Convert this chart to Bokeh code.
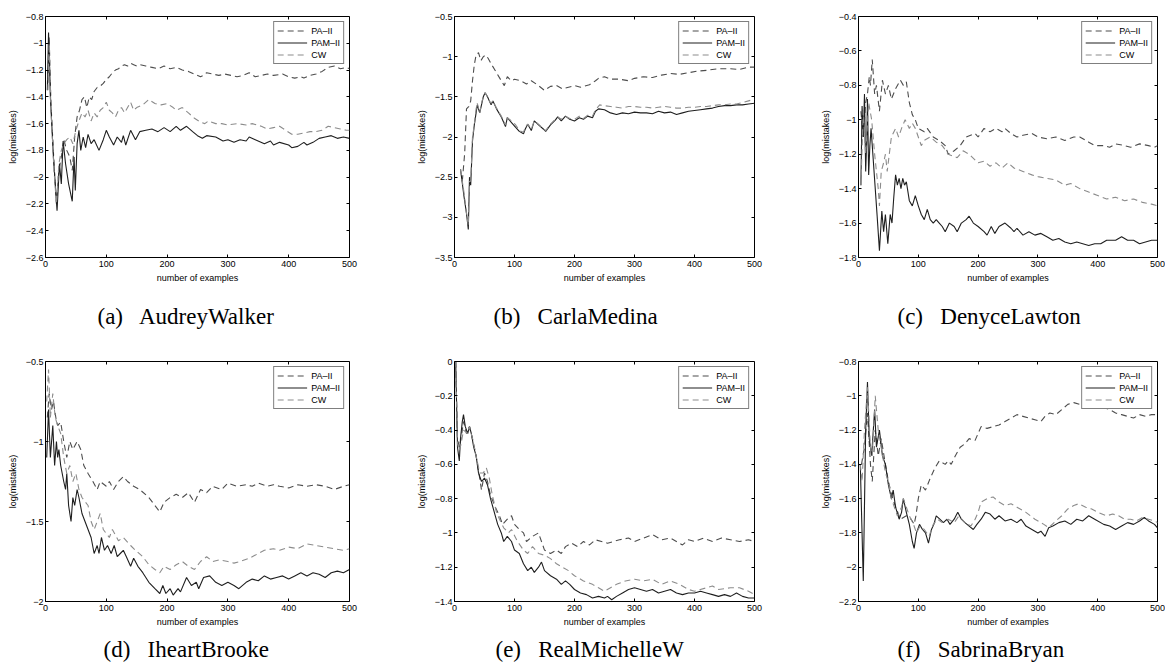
from bokeh.plotting import figure
from bokeh.models import Range1d, FixedTicker, CustomJSTickFormatter, LinearAxis, Title
from bokeh.layouts import column, row
from bokeh.embed import file_html
from bokeh.resources import INLINE

# ---------------- data (x = number of examples, y = log(mistakes)) ----------------
SERIES_NAMES = ["PA\u2013II", "PAM\u2013II", "CW"]
X_TICKS = [0, 100, 200, 300, 400, 500]

# (a) AudreyWalker
AW_YTICKS = [-2.6, -2.4, -2.2, -2.0, -1.8, -1.6, -1.4, -1.2, -1.0, -0.8]
AW_PA = [(4,-1.3),(6,-0.95),(9,-1.45),(14,-1.9),(18,-2.2),(22,-1.95),(26,-1.85),(30,-1.72),(35,-1.8),(40,-1.85),(44,-1.95),(48,-1.7),(52,-1.55),(56,-1.5),(60,-1.42),(64,-1.4),(68,-1.48),(72,-1.4),(76,-1.42),(80,-1.36),(85,-1.33),(90,-1.32),(95,-1.3),(100,-1.27),(105,-1.25),(110,-1.22),(115,-1.2),(120,-1.19),(125,-1.17),(130,-1.16),(135,-1.17),(140,-1.15),(145,-1.16),(150,-1.17),(155,-1.16),(165,-1.17),(175,-1.18),(185,-1.19),(195,-1.17),(205,-1.19),(215,-1.18),(225,-1.2),(235,-1.21),(245,-1.23),(255,-1.25),(260,-1.24),(265,-1.22),(275,-1.23),(285,-1.24),(295,-1.23),(305,-1.24),(315,-1.25),(325,-1.24),(335,-1.22),(345,-1.25),(355,-1.24),(365,-1.23),(375,-1.24),(390,-1.23),(400,-1.25),(410,-1.26),(420,-1.25),(425,-1.26),(435,-1.24),(445,-1.23),(455,-1.21),(465,-1.18),(475,-1.17),(485,-1.19),(495,-1.18),(500,-1.19)]
AW_PAM = [(3,-1.35),(5,-0.92),(8,-1.4),(13,-1.85),(19,-2.25),(23,-1.9),(26,-2.05),(29,-1.73),(33,-1.9),(38,-2.05),(44,-2.18),(47,-1.85),(49,-2.1),(52,-1.75),(55,-1.65),(58,-1.8),(62,-1.7),(66,-1.78),(70,-1.68),(75,-1.75),(80,-1.72),(88,-1.8),(95,-1.72),(100,-1.65),(105,-1.7),(112,-1.76),(118,-1.7),(125,-1.74),(128,-1.69),(132,-1.76),(140,-1.65),(148,-1.72),(155,-1.66),(165,-1.65),(175,-1.64),(185,-1.66),(195,-1.63),(205,-1.66),(215,-1.62),(222,-1.65),(232,-1.62),(242,-1.66),(250,-1.69),(258,-1.71),(265,-1.69),(280,-1.7),(292,-1.73),(300,-1.72),(310,-1.74),(320,-1.72),(330,-1.73),(335,-1.7),(345,-1.72),(360,-1.75),(370,-1.73),(375,-1.76),(385,-1.74),(400,-1.76),(405,-1.78),(415,-1.77),(425,-1.74),(430,-1.76),(440,-1.74),(450,-1.71),(460,-1.7),(470,-1.69),(480,-1.71),(490,-1.7),(500,-1.71)]
AW_CW = [(4,-1.35),(6,-1.0),(9,-1.5),(14,-1.95),(18,-2.2),(22,-1.9),(26,-1.8),(30,-1.75),(35,-1.72),(40,-1.7),(45,-1.75),(50,-1.65),(55,-1.58),(60,-1.52),(65,-1.55),(70,-1.5),(75,-1.58),(80,-1.52),(85,-1.55),(90,-1.5),(95,-1.48),(100,-1.44),(105,-1.5),(110,-1.52),(115,-1.55),(120,-1.5),(125,-1.48),(130,-1.52),(135,-1.48),(140,-1.44),(145,-1.5),(150,-1.48),(160,-1.46),(170,-1.42),(180,-1.45),(190,-1.46),(200,-1.45),(210,-1.48),(215,-1.5),(225,-1.48),(235,-1.52),(245,-1.56),(255,-1.59),(262,-1.6),(268,-1.58),(280,-1.6),(290,-1.6),(300,-1.61),(315,-1.6),(330,-1.61),(340,-1.6),(355,-1.62),(365,-1.64),(375,-1.63),(385,-1.62),(395,-1.65),(405,-1.68),(415,-1.68),(425,-1.67),(435,-1.66),(445,-1.66),(455,-1.65),(465,-1.62),(475,-1.63),(485,-1.64),(495,-1.65),(500,-1.65)]

# (b) CarlaMedina
CM_YTICKS = [-3.5, -3.0, -2.5, -2.0, -1.5, -1.0, -0.5]
CM_PA = [(13,-2.55),(17,-2.2),(20,-1.65),(24,-1.62),(27,-1.55),(30,-1.3),(33,-1.1),(36,-0.98),(40,-0.95),(44,-1.05),(48,-1.0),(52,-0.98),(56,-1.02),(62,-1.1),(70,-1.2),(78,-1.3),(83,-1.36),(88,-1.25),(95,-1.3),(100,-1.28),(110,-1.3),(120,-1.34),(128,-1.3),(140,-1.36),(150,-1.42),(160,-1.37),(170,-1.36),(180,-1.4),(190,-1.38),(200,-1.36),(210,-1.38),(225,-1.35),(235,-1.3),(240,-1.27),(250,-1.25),(260,-1.28),(275,-1.28),(290,-1.3),(300,-1.27),(315,-1.25),(330,-1.26),(345,-1.23),(360,-1.21),(375,-1.22),(390,-1.2),(405,-1.18),(420,-1.17),(440,-1.15),(460,-1.15),(475,-1.16),(490,-1.13),(500,-1.13)]
CM_PAM = [(10,-2.4),(16,-2.75),(20,-2.95),(23,-3.15),(25,-2.5),(27,-2.6),(30,-2.05),(33,-1.85),(36,-1.7),(38,-1.6),(42,-1.7),(45,-1.6),(48,-1.5),(51,-1.45),(55,-1.5),(58,-1.55),(61,-1.6),(64,-1.55),(70,-1.65),(78,-1.75),(85,-1.87),(88,-1.76),(95,-1.82),(102,-1.88),(108,-1.93),(115,-1.96),(118,-1.9),(122,-1.84),(128,-1.92),(133,-1.8),(140,-1.85),(148,-1.9),(152,-1.93),(160,-1.85),(168,-1.79),(172,-1.75),(178,-1.8),(185,-1.74),(192,-1.78),(200,-1.8),(208,-1.76),(215,-1.78),(222,-1.74),(230,-1.76),(235,-1.68),(240,-1.65),(250,-1.66),(260,-1.7),(270,-1.72),(280,-1.7),(290,-1.71),(300,-1.69),(310,-1.7),(320,-1.7),(330,-1.71),(340,-1.68),(350,-1.7),(360,-1.69),(370,-1.72),(380,-1.7),(390,-1.68),(400,-1.67),(410,-1.66),(420,-1.65),(430,-1.64),(440,-1.62),(450,-1.61),(460,-1.61),(470,-1.6),(480,-1.6),(490,-1.59),(500,-1.58)]
CM_CW = [(10,-2.4),(16,-2.7),(20,-2.95),(23,-3.1),(25,-2.55),(27,-2.55),(30,-2.0),(33,-1.85),(36,-1.65),(38,-1.58),(42,-1.7),(45,-1.58),(48,-1.5),(51,-1.45),(55,-1.5),(58,-1.55),(61,-1.58),(64,-1.55),(70,-1.64),(78,-1.74),(85,-1.85),(88,-1.76),(95,-1.8),(102,-1.85),(108,-1.92),(115,-1.94),(118,-1.88),(122,-1.84),(128,-1.9),(133,-1.8),(140,-1.84),(148,-1.9),(152,-1.92),(160,-1.84),(168,-1.78),(172,-1.75),(178,-1.78),(185,-1.74),(192,-1.77),(200,-1.78),(208,-1.74),(215,-1.77),(222,-1.73),(230,-1.74),(235,-1.66),(242,-1.6),(250,-1.61),(260,-1.62),(270,-1.63),(280,-1.64),(290,-1.62),(300,-1.62),(310,-1.63),(320,-1.63),(330,-1.64),(340,-1.63),(350,-1.62),(360,-1.63),(370,-1.64),(380,-1.64),(390,-1.63),(400,-1.63),(410,-1.62),(420,-1.62),(430,-1.61),(440,-1.6),(450,-1.6),(460,-1.59),(470,-1.59),(480,-1.57),(490,-1.55),(500,-1.53)]

# (c) DenyceLawton
DL_YTICKS = [-1.8, -1.6, -1.4, -1.2, -1.0, -0.8, -0.6, -0.4]
DL_PA = [(4,-0.95),(8,-1.1),(12,-0.9),(15,-0.85),(18,-0.75),(20,-0.8),(23,-0.65),(27,-0.85),(30,-0.8),(35,-0.95),(40,-0.77),(45,-0.85),(50,-0.8),(55,-0.88),(62,-0.82),(70,-0.77),(75,-0.8),(80,-0.78),(85,-0.9),(90,-0.97),(95,-1.0),(100,-1.05),(110,-1.07),(115,-1.05),(125,-1.1),(135,-1.12),(145,-1.15),(150,-1.2),(160,-1.18),(170,-1.15),(180,-1.1),(195,-1.08),(200,-1.1),(210,-1.05),(220,-1.07),(230,-1.05),(240,-1.07),(245,-1.05),(255,-1.08),(265,-1.1),(275,-1.09),(290,-1.08),(300,-1.1),(315,-1.11),(330,-1.1),(345,-1.12),(360,-1.1),(370,-1.1),(385,-1.13),(395,-1.15),(410,-1.15),(420,-1.16),(430,-1.14),(445,-1.15),(455,-1.16),(470,-1.14),(485,-1.15),(495,-1.16),(500,-1.15)]
DL_PAM = [(4,-1.38),(6,-0.92),(8,-1.1),(10,-0.85),(12,-1.3),(14,-1.1),(15,-0.88),(17,-1.32),(19,-1.15),(21,-1.05),(25,-1.25),(28,-1.4),(31,-1.55),(35,-1.76),(39,-1.53),(42,-1.65),(45,-1.55),(49,-1.72),(53,-1.55),(56,-1.6),(59,-1.45),(62,-1.32),(65,-1.38),(68,-1.34),(71,-1.4),(74,-1.34),(77,-1.38),(80,-1.36),(85,-1.47),(90,-1.5),(95,-1.44),(100,-1.5),(105,-1.55),(110,-1.58),(115,-1.52),(120,-1.58),(125,-1.6),(130,-1.58),(135,-1.6),(140,-1.62),(145,-1.65),(152,-1.6),(160,-1.62),(165,-1.65),(172,-1.6),(180,-1.58),(185,-1.56),(192,-1.6),(200,-1.62),(210,-1.65),(215,-1.67),(222,-1.62),(228,-1.66),(235,-1.62),(245,-1.6),(255,-1.63),(260,-1.65),(265,-1.63),(275,-1.67),(285,-1.65),(295,-1.67),(305,-1.66),(315,-1.68),(325,-1.7),(335,-1.69),(345,-1.71),(355,-1.72),(365,-1.71),(375,-1.72),(385,-1.73),(395,-1.72),(405,-1.72),(415,-1.7),(430,-1.7),(440,-1.68),(450,-1.7),(460,-1.7),(470,-1.72),(480,-1.71),(490,-1.7),(500,-1.7)]
DL_CW = [(4,-1.38),(8,-0.95),(12,-1.2),(17,-0.9),(22,-1.0),(27,-1.2),(33,-1.4),(35,-1.5),(38,-1.3),(42,-1.25),(45,-1.2),(48,-1.3),(55,-1.1),(62,-1.05),(67,-1.1),(72,-1.05),(78,-1.0),(85,-1.05),(90,-1.02),(95,-1.05),(105,-1.15),(110,-1.12),(120,-1.1),(130,-1.13),(140,-1.15),(150,-1.2),(165,-1.22),(175,-1.18),(185,-1.2),(200,-1.25),(210,-1.24),(220,-1.27),(230,-1.25),(240,-1.28),(250,-1.25),(260,-1.28),(275,-1.3),(290,-1.32),(300,-1.33),(315,-1.34),(330,-1.35),(345,-1.38),(355,-1.37),(370,-1.4),(385,-1.42),(400,-1.44),(415,-1.46),(430,-1.45),(445,-1.47),(460,-1.46),(475,-1.48),(490,-1.49),(500,-1.5)]

# (d) IheartBrooke
IB_YTICKS = [-2.0, -1.5, -1.0, -0.5]
IB_PA = [(3,-0.85),(6,-0.7),(10,-0.8),(13,-0.75),(17,-0.85),(20,-0.9),(25,-0.88),(30,-1.0),(35,-1.1),(40,-1.0),(45,-1.05),(52,-1.0),(58,-1.05),(63,-1.15),(70,-1.2),(78,-1.25),(85,-1.3),(90,-1.25),(100,-1.28),(105,-1.25),(112,-1.3),(120,-1.25),(128,-1.22),(135,-1.25),(145,-1.28),(155,-1.3),(170,-1.35),(180,-1.4),(188,-1.44),(195,-1.38),(205,-1.35),(215,-1.33),(225,-1.35),(235,-1.32),(245,-1.38),(255,-1.3),(265,-1.32),(275,-1.28),(290,-1.3),(300,-1.26),(315,-1.28),(330,-1.27),(340,-1.28),(350,-1.26),(365,-1.28),(375,-1.27),(385,-1.28),(400,-1.29),(415,-1.27),(430,-1.28),(445,-1.27),(460,-1.28),(475,-1.3),(490,-1.28),(500,-1.27)]
IB_PAM = [(2,-1.1),(5,-0.8),(8,-1.1),(12,-0.9),(15,-1.15),(18,-1.0),(20,-1.1),(22,-1.05),(25,-1.15),(30,-1.25),(33,-1.3),(35,-1.2),(38,-1.4),(42,-1.5),(45,-1.35),(48,-1.4),(52,-1.3),(55,-1.35),(60,-1.45),(65,-1.5),(70,-1.55),(75,-1.6),(80,-1.7),(85,-1.65),(88,-1.7),(92,-1.6),(97,-1.68),(102,-1.65),(108,-1.7),(113,-1.65),(118,-1.72),(123,-1.7),(128,-1.68),(133,-1.72),(140,-1.78),(145,-1.73),(152,-1.78),(160,-1.82),(170,-1.88),(180,-1.92),(188,-1.95),(193,-1.9),(198,-1.95),(205,-1.92),(210,-1.96),(218,-1.92),(222,-1.94),(232,-1.85),(240,-1.9),(248,-1.88),(252,-1.92),(260,-1.85),(270,-1.84),(280,-1.88),(290,-1.9),(300,-1.88),(310,-1.9),(318,-1.92),(330,-1.88),(340,-1.86),(350,-1.87),(360,-1.84),(370,-1.86),(380,-1.85),(390,-1.84),(400,-1.86),(410,-1.84),(420,-1.82),(430,-1.84),(440,-1.82),(450,-1.83),(460,-1.85),(470,-1.82),(480,-1.81),(490,-1.82),(500,-1.8)]
IB_CW = [(2,-0.75),(5,-0.55),(8,-0.85),(12,-0.7),(16,-0.85),(20,-0.9),(25,-0.95),(30,-1.1),(35,-1.2),(40,-1.15),(45,-1.25),(50,-1.2),(55,-1.3),(60,-1.35),(70,-1.4),(75,-1.5),(80,-1.55),(85,-1.5),(90,-1.45),(95,-1.55),(105,-1.6),(110,-1.55),(120,-1.62),(128,-1.6),(140,-1.65),(148,-1.68),(160,-1.72),(170,-1.77),(180,-1.8),(188,-1.82),(195,-1.78),(205,-1.8),(215,-1.77),(225,-1.75),(235,-1.78),(245,-1.8),(255,-1.75),(265,-1.72),(275,-1.75),(285,-1.74),(300,-1.75),(310,-1.76),(320,-1.75),(335,-1.73),(350,-1.7),(360,-1.68),(375,-1.67),(385,-1.68),(400,-1.66),(415,-1.67),(430,-1.64),(445,-1.65),(460,-1.66),(475,-1.67),(490,-1.68),(500,-1.67)]

# (e) RealMichelleW
RM_YTICKS = [-1.4, -1.2, -1.0, -0.8, -0.6, -0.4, -0.2, 0.0]
RM_PA = [(2,0.0),(5,-0.45),(8,-0.5),(11,-0.45),(15,-0.35),(20,-0.42),(25,-0.38),(30,-0.45),(36,-0.55),(42,-0.68),(45,-0.75),(50,-0.65),(55,-0.7),(60,-0.78),(68,-0.85),(75,-0.9),(80,-0.95),(88,-0.92),(95,-0.9),(100,-0.95),(108,-0.98),(115,-1.0),(120,-1.05),(130,-1.02),(140,-1.0),(150,-1.1),(160,-1.12),(170,-1.1),(178,-1.12),(185,-1.08),(195,-1.06),(205,-1.08),(215,-1.05),(225,-1.07),(235,-1.04),(245,-1.05),(255,-1.06),(265,-1.05),(275,-1.04),(290,-1.03),(300,-1.05),(315,-1.03),(330,-1.01),(345,-1.04),(360,-1.03),(380,-1.07),(390,-1.04),(400,-1.05),(415,-1.03),(430,-1.05),(445,-1.03),(460,-1.04),(475,-1.05),(490,-1.04),(500,-1.05)]
RM_PAM = [(2,0.0),(5,-0.5),(8,-0.58),(10,-0.45),(13,-0.35),(15,-0.31),(18,-0.38),(22,-0.42),(25,-0.38),(28,-0.42),(32,-0.5),(36,-0.55),(40,-0.65),(45,-0.7),(50,-0.68),(55,-0.72),(60,-0.8),(68,-0.9),(72,-0.95),(78,-1.0),(82,-1.05),(88,-1.02),(95,-1.05),(100,-1.1),(108,-1.12),(115,-1.18),(122,-1.22),(128,-1.2),(133,-1.23),(140,-1.2),(145,-1.17),(150,-1.22),(160,-1.25),(170,-1.27),(178,-1.3),(185,-1.28),(192,-1.3),(200,-1.33),(210,-1.35),(220,-1.36),(230,-1.38),(240,-1.37),(250,-1.38),(255,-1.37),(262,-1.39),(270,-1.37),(280,-1.35),(290,-1.33),(300,-1.32),(310,-1.33),(320,-1.34),(330,-1.33),(340,-1.35),(350,-1.34),(360,-1.33),(370,-1.35),(380,-1.36),(390,-1.35),(400,-1.35),(410,-1.34),(420,-1.35),(430,-1.36),(440,-1.37),(450,-1.36),(460,-1.37),(470,-1.35),(480,-1.37),(490,-1.38),(500,-1.38)]
RM_CW = [(2,0.0),(5,-0.48),(8,-0.52),(11,-0.48),(15,-0.4),(22,-0.42),(25,-0.38),(30,-0.45),(36,-0.55),(42,-0.65),(48,-0.65),(53,-0.62),(58,-0.68),(63,-0.78),(70,-0.88),(75,-0.92),(82,-0.97),(90,-1.0),(95,-0.98),(105,-1.05),(115,-1.1),(122,-1.12),(130,-1.08),(140,-1.12),(150,-1.13),(160,-1.15),(170,-1.18),(180,-1.2),(190,-1.22),(200,-1.25),(215,-1.28),(230,-1.3),(240,-1.32),(250,-1.34),(260,-1.32),(270,-1.3),(285,-1.28),(300,-1.27),(315,-1.28),(330,-1.27),(345,-1.3),(360,-1.28),(375,-1.3),(390,-1.33),(400,-1.34),(420,-1.32),(430,-1.31),(440,-1.33),(460,-1.32),(475,-1.32),(490,-1.34),(500,-1.36)]

# (f) SabrinaBryan
SB_YTICKS = [-2.2, -2.0, -1.8, -1.6, -1.4, -1.2, -1.0, -0.8]
SB_PA = [(5,-1.4),(10,-1.3),(15,-1.1),(20,-1.4),(23,-1.5),(28,-1.2),(33,-1.35),(38,-1.25),(45,-1.4),(50,-1.5),(57,-1.6),(70,-1.72),(80,-1.7),(88,-1.72),(93,-1.75),(96,-1.7),(100,-1.6),(105,-1.52),(112,-1.55),(120,-1.48),(128,-1.42),(135,-1.38),(145,-1.4),(150,-1.38),(155,-1.4),(162,-1.35),(170,-1.3),(178,-1.28),(185,-1.25),(195,-1.26),(200,-1.22),(205,-1.18),(215,-1.19),(225,-1.18),(235,-1.17),(245,-1.15),(255,-1.13),(265,-1.11),(275,-1.12),(285,-1.13),(295,-1.14),(305,-1.15),(312,-1.12),(320,-1.1),(330,-1.11),(340,-1.08),(350,-1.05),(360,-1.04),(370,-1.05),(380,-1.06),(390,-1.05),(400,-1.06),(410,-1.07),(420,-1.08),(430,-1.1),(440,-1.11),(450,-1.12),(460,-1.13),(470,-1.11),(480,-1.12),(490,-1.11),(500,-1.11)]
SB_PAM = [(3,-1.4),(8,-2.08),(12,-1.2),(15,-0.92),(18,-1.25),(22,-1.35),(27,-1.08),(30,-1.3),(35,-1.2),(40,-1.35),(45,-1.4),(50,-1.52),(55,-1.6),(58,-1.55),(62,-1.65),(68,-1.72),(72,-1.68),(75,-1.6),(80,-1.68),(85,-1.75),(90,-1.85),(93,-1.89),(97,-1.8),(102,-1.75),(107,-1.78),(112,-1.8),(117,-1.86),(122,-1.78),(126,-1.75),(130,-1.7),(136,-1.72),(142,-1.74),(148,-1.72),(153,-1.75),(160,-1.72),(166,-1.68),(172,-1.72),(178,-1.74),(185,-1.76),(192,-1.78),(198,-1.75),(205,-1.72),(212,-1.68),(220,-1.69),(228,-1.72),(235,-1.7),(245,-1.73),(255,-1.72),(265,-1.74),(272,-1.72),(280,-1.76),(290,-1.78),(300,-1.8),(305,-1.79),(312,-1.82),(318,-1.77),(325,-1.76),(335,-1.74),(345,-1.73),(355,-1.75),(365,-1.72),(375,-1.73),(385,-1.7),(395,-1.72),(410,-1.75),(420,-1.76),(430,-1.78),(440,-1.76),(450,-1.74),(460,-1.75),(470,-1.73),(478,-1.71),(485,-1.73),(495,-1.75),(500,-1.77)]
SB_CW = [(3,-1.4),(6,-1.5),(10,-1.2),(15,-0.95),(20,-1.3),(23,-1.35),(28,-1.0),(33,-1.2),(38,-1.3),(45,-1.45),(50,-1.5),(55,-1.6),(65,-1.7),(72,-1.65),(75,-1.6),(85,-1.7),(92,-1.75),(97,-1.8),(103,-1.76),(110,-1.78),(118,-1.82),(125,-1.75),(132,-1.72),(140,-1.74),(150,-1.72),(160,-1.74),(168,-1.7),(178,-1.74),(188,-1.76),(195,-1.72),(200,-1.68),(205,-1.62),(215,-1.6),(225,-1.59),(235,-1.62),(245,-1.64),(255,-1.63),(265,-1.65),(280,-1.68),(295,-1.72),(310,-1.75),(318,-1.77),(330,-1.73),(340,-1.7),(350,-1.66),(360,-1.64),(368,-1.63),(380,-1.65),(390,-1.66),(400,-1.68),(415,-1.7),(425,-1.69),(435,-1.7),(445,-1.72),(455,-1.72),(465,-1.73),(475,-1.71),(485,-1.72),(495,-1.73),(500,-1.74)]

# ---------------- styling ----------------
SANS = "Liberation Sans"
SERIF = "Liberation Serif"
COLORS = ["#4d4d4d", "#1f1f1f", "#8c8c8c"]
DASHES = ["6 4", "solid", "6 4"]

FMT = CustomJSTickFormatter(code="""
const v = Math.round(tick * 10) / 10;
const s = String(v);
return s.startsWith('-') ? '\\u2212' + s.slice(1) : s;
""")


def panel(caption, yticks, series, width, left, right, height, top, bottom,
          cap_offset, cap_standoff):
    p = figure(width=width, height=height, output_backend="svg", toolbar_location=None,
               x_range=Range1d(0, 500), y_range=Range1d(min(yticks), max(yticks)),
               min_border_left=left, min_border_right=right,
               min_border_top=top, min_border_bottom=bottom)
    p.background_fill_color = "white"
    p.border_fill_color = "white"
    p.outline_line_color = "black"
    p.outline_line_width = 1
    p.xgrid.visible = False
    p.ygrid.visible = False

    for data, name, color, dash in zip(series, SERIES_NAMES, COLORS, DASHES):
        xs = [d[0] for d in data]
        ys = [d[1] for d in data]
        p.line(xs, ys, line_color=color, line_width=1.1, line_dash=dash, legend_label=name)

    for ax, ticks in ((p.xaxis[0], X_TICKS), (p.yaxis[0], yticks)):
        ax.ticker = FixedTicker(ticks=ticks)
        ax.formatter = FMT
        ax.axis_line_color = None
        ax.major_tick_in = 3
        ax.major_tick_out = 0
        ax.minor_tick_line_color = None
        ax.major_tick_line_color = "black"
        ax.major_label_text_font = SANS
        ax.major_label_text_font_size = "9px"
        ax.major_label_text_color = "black"
        ax.major_label_standoff = 3
        ax.axis_label_text_font = SANS
        ax.axis_label_text_font_size = "9px"
        ax.axis_label_text_font_style = "normal"
        ax.axis_label_text_color = "black"
        ax.axis_label_standoff = 3
    p.xaxis[0].axis_label = "number of examples"
    p.yaxis[0].axis_label = "log(mistakes)"
    p.yaxis[0].major_label_standoff = 2
    p.yaxis[0].axis_label_standoff = 5

    # mirrored ticks on top and right (no labels)
    top_ax = LinearAxis(ticker=FixedTicker(ticks=X_TICKS), fixed_location=max(yticks),
                        axis_line_color=None, major_tick_in=3, major_tick_out=0,
                        minor_tick_line_color=None, major_label_text_color=None,
                        major_label_text_font_size="0px", major_label_standoff=0)
    right_ax = LinearAxis(ticker=FixedTicker(ticks=yticks), fixed_location=500,
                          axis_line_color=None, major_tick_in=3, major_tick_out=0,
                          minor_tick_line_color=None, major_label_text_color=None,
                          major_label_text_font_size="0px", major_label_standoff=0)
    p.add_layout(top_ax, "above")
    p.add_layout(right_ax, "right")

    lg = p.legend[0]
    lg.location = "top_right"
    lg.border_line_color = "black"
    lg.border_line_width = 1.5
    lg.background_fill_color = "white"
    lg.background_fill_alpha = 1
    lg.label_text_font = SANS
    lg.label_text_font_size = "9px"
    lg.label_text_color = "black"
    lg.glyph_width = 30
    lg.glyph_height = 11
    lg.label_height = 11
    lg.label_standoff = 4
    lg.spacing = 1
    lg.padding = 3
    lg.margin = 5

    p.add_layout(Title(text=caption, align="left", offset=cap_offset, text_font=SERIF,
                       text_font_size="23px", text_font_style="normal", text_color="black",
                       standoff=cap_standoff), "below")
    return p


# page origin is (0, 0): frames at x 45/450/854, y 16 (row 1) and 361 (row 2)
H1, T1, B1 = 345, 16, 88
H2, T2, B2 = 321, 16, 65

fa = panel("(a)\u2002 AudreyWalker", AW_YTICKS, [AW_PA, AW_PAM, AW_CW], 413, 45, 64, H1, T1, B1, 52, 32)
fb = panel("(b)\u2002 CarlaMedina", CM_YTICKS, [CM_PA, CM_PAM, CM_CW], 404, 37, 63, H1, T1, B1, 39, 32)
fc = panel("(c)\u2002 DenyceLawton", DL_YTICKS, [DL_PA, DL_PAM, DL_CW], 348, 37, 8, H1, T1, B1, 39, 32)
fd = panel("(d)\u2002 IheartBrooke", IB_YTICKS, [IB_PA, IB_PAM, IB_CW], 413, 45, 64, H2, T2, B2, 58, 10)
fe = panel("(e)\u2002 RealMichelleW", RM_YTICKS, [RM_PA, RM_PAM, RM_CW], 404, 37, 63, H2, T2, B2, 41, 10)
ff = panel("(f)\u2002 SabrinaBryan", SB_YTICKS, [SB_PA, SB_PAM, SB_CW], 348, 37, 8, H2, T2, B2, 39, 10)

layout = column(row(fa, fb, fc), row(fd, fe, ff))

open("out.html", "w").write(file_html(layout, INLINE))
